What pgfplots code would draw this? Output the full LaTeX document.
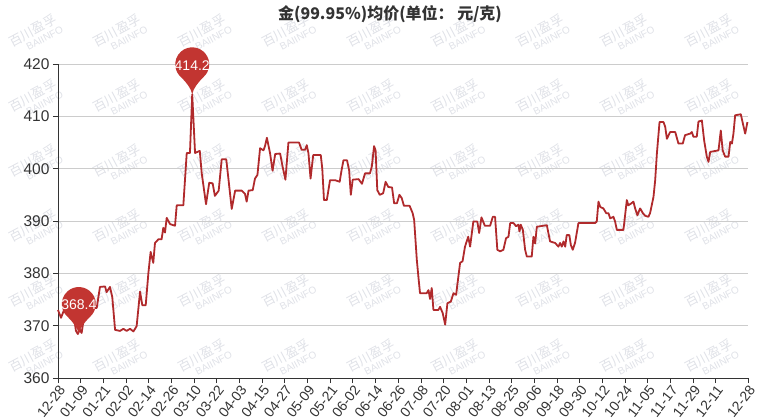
\documentclass[border=0pt]{standalone}
\usepackage{fontspec}
\setmainfont{Liberation Sans}
\newfontfamily\cjk{Noto Sans CJK SC}
\usepackage{pgfplots}
\pgfplotsset{compat=1.18}

\definecolor{goldred}{HTML}{C23531}
\definecolor{linered}{HTML}{B02A2C}
\definecolor{txt}{HTML}{333333}
\definecolor{grd}{HTML}{CCCCCC}
\definecolor{wm}{HTML}{DFE1E7}

% map pin, tip at the data point
\pgfdeclareplotmark{pin}{%
  \pgfpathmoveto{\pgfpointorigin}%
  \pgfpathcurveto{\pgfpoint{1pt}{6pt}}{\pgfpoint{6pt}{12pt}}{\pgfpoint{10.93pt}{16.98pt}}%
  \pgfpatharc{-50}{230}{17pt}%
  \pgfpathcurveto{\pgfpoint{-6pt}{12pt}}{\pgfpoint{-1pt}{6pt}}{\pgfpointorigin}%
  \pgfpathclose
  \pgfusepathqfill
}

% day (from 12-28) , price
\pgfplotstableread{
d v
0 373.0
1.6 371.5
3.4 373.2
5 373.3
7 373.0
8.5 371.5
9.5 369.0
10.5 368.4
11.5 369.3
12.5 368.6
13.5 371.0
15 373.2
20.5 373.4
22.2 377.4
24.9 377.5
25.7 376.4
27.5 377.4
28.7 375.5
30.2 369.2
32.8 369.0
34.6 369.4
36.3 369.0
38.1 369.4
39.9 368.9
41.6 369.9
43.4 376.5
44.6 373.9
46.4 373.9
47.8 380.0
49 384.1
50.4 382.0
51.3 385.8
53.1 386.5
54.8 386.5
55.7 388.7
56.6 387.8
57.5 390.6
59.3 389.4
61.9 389.1
62.8 393.0
66.3 393.0
68.1 403.0
69.8 403.0
71 414.2
72.5 403.0
75 403.4
76 399.2
78.3 393.2
80 397.3
81.8 397.2
83 394.8
85 395.8
86.6 401.8
89 401.8
89.8 399.2
91.9 392.3
93.7 395.8
97.2 395.8
98.9 395.2
99.8 393.7
100.8 395.8
103 395.9
104.2 398.1
105.5 398.8
106.9 403.9
108.7 403.5
109.5 404.3
110.5 405.9
112.2 402.9
113.5 399.6
114.9 402.8
117.5 402.9
118.8 400.4
120.3 397.9
121.9 405.0
127.5 405.0
128.9 403.6
130.7 403.6
131.6 404.5
132.5 402.9
133.6 398.1
135.0 402.6
139 402.6
139.8 400.0
140.7 394.0
142.2 394.0
143.9 397.8
146.5 397.8
149 397.5
150 399.7
151 401.6
152.9 401.6
154 399.7
154.9 395.0
155.9 397.9
159 398.0
160.8 397.1
162.4 399.1
165 399.1
166 400.4
167.2 404.3
168 403.5
168.9 395.9
170.2 395.0
172 395.3
173.3 397.5
174.7 396.5
176.7 396.4
177.8 393.4
179.3 393.4
180.6 395.0
181.8 394.4
183 392.9
186 392.9
187.6 391.5
188.4 390.2
189.8 382.6
190.6 379.5
191.5 376.2
195 376.2
196 376.8
196.8 375.1
197.7 377.2
198.6 373.0
201.2 373.0
202.1 373.6
203.5 372.4
204.8 370.2
206 374.3
207.8 374.6
209.2 376.2
210.6 375.9
212.7 382.0
214 382.3
215.3 385.1
217 387.0
218 385.1
219.7 389.9
221.8 389.9
222.8 387.7
224 390.7
225.8 389.1
228.6 389.1
230 390.8
231.2 390.8
232.4 384.5
233.9 384.2
235.6 384.5
237 386.7
238.3 387.0
239.2 389.6
241 389.6
242.3 389.0
243.6 389.3
244.1 388.0
244.8 389.3
245.9 388.3
247.1 384.5
248 383.2
250.6 383.2
251.5 387.0
252.4 385.7
253.3 388.9
258.6 389.2
259.4 387.7
260.3 386.1
263 385.8
264.7 385.1
265.6 385.8
266.5 385.1
267.4 386.1
268.3 385.1
269.1 387.3
270.5 387.3
271.3 385.4
272.3 384.5
273.5 385.8
275.3 389.6
284.1 389.6
285 389.9
285.9 393.7
286.8 392.7
288.5 392.4
290 391.5
291.2 391.5
292.1 390.5
293.8 390.8
294.7 389.9
295.6 388.3
299.1 388.3
300.9 394.0
301.7 393.0
303 393.3
304.4 393.7
305.3 392.4
306.5 391.1
307.9 392.4
309.4 391.5
310.6 391.0
312.3 390.8
313.2 391.5
315 394.6
315.9 397.8
316.8 402.9
318.2 408.9
320.3 408.9
321.2 408.0
322.1 405.7
323.8 407.0
326.5 407.0
328.2 404.8
330.5 404.8
331.7 406.4
334.4 406.7
335.3 407.0
336.1 406.1
337.9 406.1
338.8 409.0
340.6 409.2
341.8 405.4
343.2 402.3
344.1 401.3
345 403.2
349.4 403.5
350.6 407.3
351.6 403.5
352.9 402.3
354.7 402.3
355.6 405.1
356.5 404.8
357.3 406.7
358.2 410.2
361.2 410.4
362.3 408.6
363.5 406.7
364.7 408.9
}\gold

\begin{document}
\begin{tikzpicture}
% watermark tiles, behind the chart (axis box has its south west corner at the origin)
\foreach \i in {0,...,8}
  \foreach \j in {0,...,5}
    \node[rotate=28, text=wm, align=center, inner sep=0pt, font=\fontsize{10}{11}\selectfont]
      at ({84.5pt*\i-23pt},{343pt-65pt*\j})
      {{\cjk\fontsize{13}{14}\selectfont 百川盈孚}\\\hspace*{14pt}BAIINFO};
\begin{axis}[
    at={(0pt,0pt)}, anchor=south west,
    scale only axis,
    width=690pt, height=314pt,
    xmin=0, xmax=365,
    ymin=360, ymax=420,
    clip=false,
    axis x line=bottom, axis y line=left,
    axis line style={-, draw=txt, line width=0.9pt},
    tick align=outside,
    major tick length=5pt,
    tick style={draw=txt, line width=0.9pt},
    ytick={360,370,...,420},
    xtick={0,12,...,348,365},
    xticklabels={12-28,01-09,01-21,02-02,02-14,02-26,03-10,03-22,04-03,04-15,04-27,05-09,05-21,06-02,06-14,06-26,07-08,07-20,08-01,08-13,08-25,09-06,09-18,09-30,10-12,10-24,11-05,11-17,11-29,12-11,12-28},
    x tick label style={rotate=52, anchor=north east, font=\fontsize{14}{14}\selectfont, text=txt, inner sep=1pt},
    y tick label style={font=\fontsize{15.5}{15.5}\selectfont, text=txt},
    /pgf/number format/assume math mode=true,
    ymajorgrids,
    y grid style={draw=grd, line width=0.9pt},
    title={\cjk\bfseries 金(99.95\%)均价(单位： 元/克)},
    title style={at={(axis description cs:0.5,1)}, anchor=center, yshift=44pt, xshift=-13pt, font=\fontsize{16}{16}\selectfont, text=txt},
]
\addplot[linered, line width=1.8pt, line join=round, mark=none] table[x=d, y=v] {\gold};
\addplot[only marks, mark=pin, mark options={fill=goldred, draw=none},
    point meta=explicit symbolic, nodes near coords,
    nodes near coords style={anchor=center, yshift=29pt, text=white, font=\fontsize{14}{14}\selectfont, inner sep=0pt}]
    coordinates {(11,368.4) [368.4] (71,414.2) [414.2]};
\end{axis}
\pgfresetboundingbox
\path[use as bounding box] ([shift={(-58pt,-40pt)}]current axis.south west) rectangle ([shift={(31pt,64pt)}]current axis.north east);
\end{tikzpicture}
\end{document}
